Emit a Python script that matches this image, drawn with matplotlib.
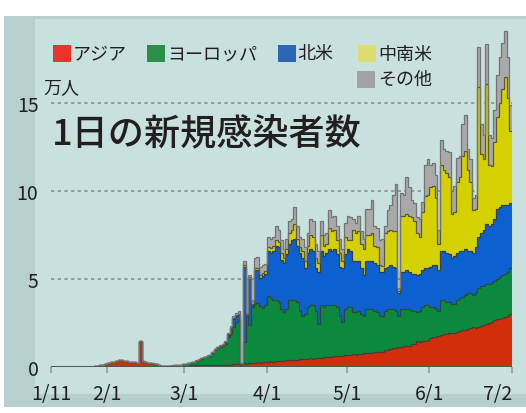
import numpy as np
import matplotlib
matplotlib.use('Agg')
import matplotlib.pyplot as plt
from matplotlib.patches import Rectangle

plt.rcParams['font.family'] = ['Noto Sans CJK JP', 'DejaVu Sans']

# ---------------- data (万人 per day, Jan 11 .. Jul 1) ----------------
regions = ['アジア', 'ヨーロッパ', '北米', '中南米', 'その他']
tick_days = [0, 21, 50, 81, 111, 142, 173]
tick_labels = ['1/11', '2/1', '3/1', '4/1', '5/1', '6/1', '7/2']
y_ticks = [0, 5, 10, 15]

asia_jan = [0] * 16 + [0.05, 0.08, 0.1, 0.13, 0.17]
asia_feb = [0.2, 0.26, 0.3, 0.33, 0.4, 0.37, 0.34, 0.32, 0.3, 0.3, 0.26, 0.25, 1.5, 0.35,
            0.27, 0.22, 0.2, 0.19, 0.16, 0.1, 0.06, 0.05, 0.05, 0.04, 0.05, 0.05, 0.06, 0.07, 0.08]
asia_mar = [0.08, 0.08, 0.09, 0.09, 0.1, 0.1, 0.1, 0.1, 0.1, 0.1, 0.1, 0.11, 0.11, 0.12, 0.12,
            0.12, 0.13, 0.14, 0.15, 0.16, 0.16, 0.05, 0.2, 0.18, 0.2, 0.22, 0.25, 0.26, 0.25, 0.27, 0.3]
asia_apr = [0.3, 0.32, 0.3, 0.33, 0.35, 0.34, 0.36, 0.38, 0.4, 0.4, 0.42, 0.4, 0.45, 0.44, 0.46,
            0.45, 0.5, 0.48, 0.5, 0.52, 0.5, 0.55, 0.54, 0.56, 0.58, 0.6, 0.6, 0.62, 0.64, 0.66]
asia_may = [0.68, 0.7, 0.72, 0.7, 0.74, 0.76, 0.78, 0.8, 0.82, 0.8, 0.84, 0.86, 0.88, 0.86, 0.95,
            0.98, 1.02, 1.1, 1.08, 1.12, 1.15, 1.18, 1.2, 1.22, 1.28, 1.3, 1.45, 1.42, 1.46, 1.5, 1.52]
asia_jun = [1.65, 1.7, 1.72, 1.75, 1.8, 1.85, 1.9, 1.95, 1.92, 1.95, 2.0, 2.05, 2.1, 2.1, 2.15,
            2.2, 2.25, 2.2, 2.3, 2.35, 2.4, 2.45, 2.5, 2.55, 2.65, 2.7, 2.75, 2.8, 2.85, 2.9]
asia_jul = [3.0]

europe_jan = [0] * 21
europe_feb = [0] * 20 + [0.01, 0.02, 0.02, 0.03, 0.03, 0.04, 0.05, 0.06, 0.07]
europe_mar = [0.08, 0.12, 0.16, 0.2, 0.25, 0.3, 0.38, 0.45, 0.5, 0.55, 0.7, 0.85, 0.95, 1.0, 1.05,
              1.2, 1.55, 1.75, 2.1, 2.4, 2.5, 0.1, 1.2, 2.7, 2.2, 3.2, 3.35, 3.35, 3.2, 3.1, 3.2]
europe_apr = [3.75, 3.58, 3.5, 3.47, 3.35, 2.96, 2.74, 2.92, 3.4, 3.4, 3.38, 3.3, 2.75, 2.46, 2.54,
              2.95, 3.0, 3.02, 2.7, 1.93, 3.0, 2.85, 2.96, 2.94, 2.92, 2.9, 2.8, 2.28, 1.91, 2.64]
europe_may = [2.72, 2.7, 2.38, 2.4, 2.46, 2.24, 2.12, 2.5, 2.48, 2.5, 2.36, 2.24, 2.02, 2.04, 2.25,
              2.32, 2.28, 2.2, 2.12, 1.78, 2.15, 2.12, 2.1, 2.08, 1.92, 1.9, 1.65, 1.78, 1.94, 2.0, 1.98]
europe_jun = [1.75, 1.7, 1.58, 1.45, 2.0, 1.95, 1.8, 1.75, 1.68, 1.65, 1.8, 1.85, 1.9, 2.0, 2.05,
              2.0, 1.85, 2.0, 2.2, 2.25, 2.2, 2.25, 2.2, 2.25, 2.25, 2.3, 2.35, 2.4, 2.45, 2.5]
europe_jul = [2.6]

namer_jan = [0] * 21
namer_feb = [0] * 29
namer_mar = [0, 0, 0, 0, 0.01, 0.01, 0.01, 0.01, 0.01, 0.02, 0.03, 0.04, 0.05, 0.06, 0.07,
             0.1, 0.15, 0.3, 0.5, 0.35, 0.3, 0.02, 4.3, 0.05, 2.6, 0.1, 1.9, 1.9, 1.6, 1.8, 1.8]
namer_apr = [2.55, 2.6, 2.8, 3.1, 3.1, 2.8, 2.8, 3.1, 3.2, 3.4, 3.5, 3.2, 3.3, 3.3, 2.6,
             3.1, 3.2, 3.1, 2.4, 2.95, 3.1, 2.9, 3.0, 3.2, 3.1, 3.2, 3.0, 2.8, 3.05, 3.1]
namer_may = [3.3, 3.2, 2.9, 2.9, 2.8, 2.6, 2.3, 2.7, 2.7, 2.7, 2.7, 2.7, 2.5, 2.5, 2.4,
             2.4, 2.5, 2.4, 2.4, 1.3, 2.1, 2.1, 2.2, 2.1, 2.1, 2.1, 2.1, 2.1, 2.1, 2.1, 2.1]
namer_jun = [2.3, 2.4, 2.5, 2.3, 2.8, 2.8, 2.8, 2.7, 2.6, 2.7, 2.7, 2.7, 2.6, 2.6, 2.4,
             2.4, 2.4, 2.6, 2.9, 3.0, 3.2, 3.4, 3.3, 3.3, 3.5, 4.0, 4.0, 4.0, 3.9, 3.8]
namer_jul = [3.7]

latam_jan = [0] * 21
latam_feb = [0] * 29
latam_mar = [0] * 13 + [0.01, 0.01, 0.01, 0.02, 0.02, 0.03, 0.04,
                        0.05, 0, 0.1, 0, 0.1, 0.05, 0.1, 0.1, 0.15, 0.15, 0.15]
latam_apr = [0.2, 0.25, 0.3, 0.3, 0.3, 0.4, 0.3, 0.3, 0.6, 0.6, 0.8, 0.4, 0.3, 0.4, 0.4,
             0.4, 0.8, 0.8, 0.6, 0.5, 0.9, 0.6, 0.5, 1.2, 1.1, 1.1, 0.8, 0.8, 0.4, 1.0]
latam_may = [0.5, 0.6, 1.8, 1.6, 1.7, 1.4, 1.5, 1.5, 1.5, 1.6, 1.0, 1.0, 0.4, 0.35, 2.0,
             2.0, 2.0, 2.0, 2.1, 0.1, 3.2, 3.2, 3.2, 3.2, 3.2, 3.0, 2.4, 2.1, 3.3, 4.1, 4.2]
latam_jun = [4.5, 4.5, 3.8, 1.5, 4.9, 4.6, 4.5, 4.4, 2.5, 2.5, 4.0, 4.2, 5.4, 5.6, 4.6,
             3.9, 2.4, 2.2, 8.5, 4.5, 4.0, 8.0, 3.5, 3.3, 4.4, 5.2, 5.9, 6.6, 7.3, 6.1]
latam_jul = [4.1]

other_jan = [0] * 21
other_feb = [0] * 15 + [0.01] * 14
other_mar = [0.01, 0.01, 0.01, 0.01, 0.01, 0.02, 0.02, 0.02, 0.02, 0.02, 0.03, 0.03, 0.04, 0.04, 0.05,
             0.06, 0.08, 0.1, 0.12, 0.12, 0.15, 0.03, 0.2, 0.15, 0.1, 0.25, 0.6, 0.65, 0.5, 0.5, 0.4]
other_apr = [0.6, 0.55, 0.5, 0.8, 0.7, 0.7, 0.5, 0.6, 0.7, 0.6, 1.0, 0.7, 0.6, 0.7, 0.8,
             0.7, 0.9, 0.9, 0.8, 0.7, 0.8, 0.6, 0.6, 1.0, 0.8, 0.8, 0.8, 0.8, 0.7, 0.8]
other_may = [1.4, 1.3, 0.6, 0.6, 0.9, 0.7, 0.6, 1.5, 1.5, 1.9, 1.1, 1.1, 1.4, 1.55, 0.4,
             1.2, 1.4, 2.1, 2.7, 0.2, 1.3, 1.2, 2.1, 1.6, 1.0, 1.0, 0.9, 1.0, 0.6, 1.8, 2.0]
other_jun = [1.3, 1.3, 1.3, 0.8, 1.4, 1.2, 1.3, 1.4, 1.3, 1.5, 1.4, 1.2, 1.8, 2.0, 1.2,
             1.3, 0.7, 0.8, 2.3, 1.7, 1.4, 2.25, 1.7, 1.6, 1.8, 2.4, 2.6, 2.6, 2.6, 2.3]
other_jul = [1.5]

asia = asia_jan + asia_feb + asia_mar + asia_apr + asia_may + asia_jun + asia_jul
europe = europe_jan + europe_feb + europe_mar + europe_apr + europe_may + europe_jun + europe_jul
namer = namer_jan + namer_feb + namer_mar + namer_apr + namer_may + namer_jun + namer_jul
latam = latam_jan + latam_feb + latam_mar + latam_apr + latam_may + latam_jun + latam_jul
other = other_jan + other_feb + other_mar + other_apr + other_may + other_jun + other_jul
series = [asia, europe, namer, latam, other]

# ---------------- styling ----------------
area_colors = ['#d22e0c', '#0b8a3e', '#0d60d0', '#d5d000', '#a9a9a9']
legend_colors = ['#e8352b', '#2b8f48', '#2d66b3', '#dcdc70', '#a3a3a6']
edge_colors = ['#4a3a35', '#2f4a38', '#2f3f5a', '#5a5a30', '#747474']

W, H = 526, 414
def fx(x):
    return x / W
def fy(y):
    return 1 - y / H

fig = plt.figure(figsize=(W / 100, H / 100), dpi=100, facecolor='white')
fig.add_artist(Rectangle((fx(4), fy(408)), (W - 4) / W, (408 - 17) / H,
                         transform=fig.transFigure, facecolor='#b6d0d0', edgecolor='none', zorder=-10))
fig.add_artist(Rectangle((fx(35), fy(395)), (W - 35) / W, (395 - 20) / H,
                         transform=fig.transFigure, facecolor='#c8e0de', edgecolor='none', zorder=-9))

y0_px, ytop = 368, 19.8
px_per = 17.6
ax = fig.add_axes([fx(51), fy(y0_px), (512 - 51) / W, (ytop * px_per) / H])
ax.patch.set_visible(False)
for s in ax.spines.values():
    s.set_visible(False)

n = len(asia)
edges = np.arange(n + 1)
ax.set_xlim(0, n)
ax.set_ylim(0, ytop)

ax.set_yticks(y_ticks)
ax.grid(axis='y', linestyle=(0, (2, 2)), color='#8f8f8f', linewidth=1.2)
ax.set_axisbelow(True)

base = np.zeros(n)
for vals, c, ec in zip(series, area_colors, edge_colors):
    top = base + np.array(vals)
    ax.stairs(top, edges, baseline=base, fill=True, color=c, zorder=2)
    ax.stairs(top, edges, baseline=None, color=ec, linewidth=0.9, zorder=3)
    base = top

ax.axhline(0, color='#555555', linewidth=2.2, zorder=4)

ax.set_xticks(tick_days)
ax.set_xticklabels(tick_labels)
ax.tick_params(axis='x', direction='out', length=4.5, width=1.2, color='#9a9a9a',
               labelsize=14, labelcolor='#231f20', pad=7)
ax.tick_params(axis='y', length=0, labelsize=14, labelcolor='#231f20', pad=9)
xl = ax.get_xticklabels()
xl[-1].set_ha('right')
xl[-1].set_x(tick_days[-1])

# legend
sq_pos = [(53.3, 46), (147, 46), (278, 46), (358, 46), (357, 72)]
tx_pos = [(73, 54.5), (167, 54.5), (297, 54.5), (378, 54.5), (378, 80)]
for (sx, sy), (tx, ty), lab, c in zip(sq_pos, tx_pos, regions, legend_colors):
    fig.add_artist(Rectangle((fx(sx), fy(sy + 16.5)), 17.5 / W, 16.5 / H,
                             transform=fig.transFigure, facecolor=c, edgecolor='none'))
    fig.text(fx(tx), fy(ty), lab, fontsize=13, va='center', ha='left', color='#231f20')

fig.text(fx(43), fy(88), '万人', fontsize=13, va='center', ha='left', color='#231f20')
fig.text(fx(52), fy(135), '1日の新規感染者数', fontsize=26, va='center', ha='left',
         color='#231f20', fontweight='medium')

fig.savefig('out.png', dpi=100, facecolor='white')
